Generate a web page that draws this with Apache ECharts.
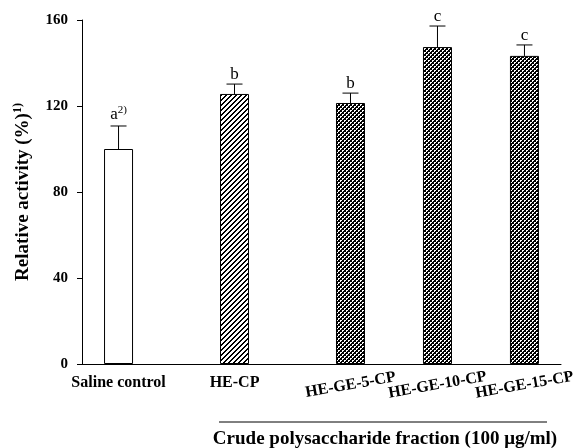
<!DOCTYPE html>
<html>
<head>
<meta charset="UTF-8">
<title>Relative activity</title>
<script src="https://cdn.jsdelivr.net/npm/echarts@6/dist/echarts.min.js"></script>
<style>
    html, body { margin: 0; padding: 0; background: #fff; }
    #chart { width: 575px; height: 448px; }
</style>
</head>
<body>
<div id="chart"></div>
<script>
    // data
    const categories = ['Saline control', 'HE-CP', 'HE-GE-5-CP', 'HE-GE-10-CP', 'HE-GE-15-CP'];
    const positions = [0, 4, 8, 11, 14];          // slot of each bar along the x axis
    const values = [100, 125.6, 121.4, 147.4, 143.3];
    const errors = [10.7, 4.6, 4.6, 9.8, 5.1];
    const letters = ['a', 'b', 'b', 'c', 'c'];

    const serif = "'Liberation Serif', 'Times New Roman', serif";

    // fill patterns
    function makePattern(size, isDark) {
        const c = document.createElement('canvas');
        c.width = size; c.height = size;
        const ctx = c.getContext('2d');
        const img = ctx.createImageData(size, size);
        for (let y = 0; y < size; y++) {
            for (let x = 0; x < size; x++) {
                const i = (y * size + x) * 4;
                const v = isDark(x, y) ? 0 : 255;
                img.data[i] = v; img.data[i + 1] = v; img.data[i + 2] = v; img.data[i + 3] = 255;
            }
        }
        ctx.putImageData(img, 0, 0);
        return c;
    }
    const hatch = makePattern(5, (x, y) => (x + y) % 5 < 2);
    const cross = makePattern(4, (x, y) => {
        const white = (x === 0 && y === 0) || (x === 1 && y === 0) || (x === 0 && y === 1) ||
                      (x === 2 && y === 2) || (x === 3 && y === 2) || (x === 2 && y === 3);
        return !white;
    });
    const fills = ['#ffffff', {image: hatch, repeat: 'repeat'},
        {image: cross, repeat: 'repeat'}, {image: cross, repeat: 'repeat'}, {image: cross, repeat: 'repeat'}];

    const xMin = -1.26, xMax = 15.26;

    function labelFor(v) {
        const i = positions.findIndex(p => Math.abs(p - v) < 0.01);
        return i >= 0 ? categories[i] : '';
    }

    // main x axis: line + the two flat labels
    const xAxes = [{
        type: 'value', min: xMin, max: xMax,
        axisLine: { show: true, onZero: false, lineStyle: { color: '#000', width: 1 } },
        axisTick: { show: false },
        splitLine: { show: false },
        axisLabel: {
            customValues: positions.slice(0, 2),
            formatter: labelFor,
            hideOverlap: false,
            margin: 11,
            color: '#000', fontFamily: serif, fontWeight: 'bold', fontSize: 16
        }
    }];
    // the slanted labels, one overlay axis each so none get hidden
    positions.slice(2).forEach(p => {
        xAxes.push({
            type: 'value', min: xMin, max: xMax, position: 'bottom',
            axisLine: { show: false, onZero: false },
            axisTick: { show: false },
            splitLine: { show: false },
            axisLabel: {
                customValues: [p],
                formatter: labelFor,
                rotate: 10,
                align: 'center',
                verticalAlign: 'middle',
                margin: 21,
                color: '#000', fontFamily: serif, fontWeight: 'bold', fontSize: 16
            }
        });
    });

    const chart = echarts.init(document.getElementById('chart'));
    const option = {
        animation: false,
        grid: { left: 82, right: 14, top: 20, bottom: 84, outerBoundsMode: 'none', containLabel: false },
        xAxis: xAxes,
        yAxis: {
            type: 'value', min: 0, max: 160, interval: 40,
            name: 'Relative activity (%){s|1)}',
            nameLocation: 'middle',
            nameRotate: 90,
            nameGap: 48,
            nameTextStyle: {
                color: '#000', fontFamily: serif, fontWeight: 'bold', fontSize: 19,
                rich: { s: { fontFamily: serif, fontWeight: 'bold', fontSize: 12, padding: [0, 0, 10, 0] } }
            },
            axisLine: { show: true, onZero: false, lineStyle: { color: '#000', width: 1 } },
            axisTick: { show: true, length: 5, lineStyle: { color: '#000', width: 1 } },
            splitLine: { show: false },
            axisLabel: {
                margin: 14,
                color: '#000', fontFamily: serif, fontWeight: 'bold', fontSize: 15
            }
        },
        series: [
            {
                type: 'bar',
                xAxisIndex: 0,
                barWidth: 29,
                data: positions.map((p, i) => ({
                    value: [p, values[i]],
                    itemStyle: { color: fills[i], borderColor: '#000', borderWidth: 1 }
                }))
            },
            {
                type: 'custom',
                xAxisIndex: 0,
                z: 5,
                data: positions.map((p, i) => [p, values[i], errors[i], i]),
                renderItem: function (params, api) {
                    const base = api.coord([api.value(0), api.value(1)]);
                    const top = api.coord([api.value(0), api.value(1) + api.value(2)]);
                    const idx = api.value(3);
                    const txt = idx === 0 ? '{n|' + letters[idx] + '}{s|2)}' : '{n|' + letters[idx] + '}';
                    const half = 8;
                    return {
                        type: 'group',
                        children: [
                            { type: 'line', shape: { x1: base[0], y1: base[1], x2: top[0], y2: top[1] },
                              style: { stroke: '#000', lineWidth: 1 } },
                            { type: 'line', shape: { x1: top[0] - half, y1: top[1], x2: top[0] + half, y2: top[1] },
                              style: { stroke: '#000', lineWidth: 1 } },
                            { type: 'text', x: top[0], y: top[1] - 1,
                              style: {
                                  text: txt, align: 'center', verticalAlign: 'bottom', fill: '#000',
                                  rich: {
                                      n: { fontFamily: serif, fontSize: 17, fill: '#000' },
                                      s: { fontFamily: serif, fontSize: 11, fill: '#000', padding: [0, 0, 9, 0] }
                                  }
                              } }
                        ]
                    };
                }
            }
        ],
        graphic: [
            { type: 'line', shape: { x1: 219, y1: 422, x2: 547, y2: 422 },
              style: { stroke: '#000', lineWidth: 1 } },
            { type: 'text', x: 385, y: 439,
              style: { text: 'Crude polysaccharide fraction (100 \u03bcg/ml)', align: 'center', verticalAlign: 'middle',
                       fill: '#000', font: 'bold 19px ' + serif } }
        ]
    };
    chart.setOption(option);
</script>
</body>
</html>
